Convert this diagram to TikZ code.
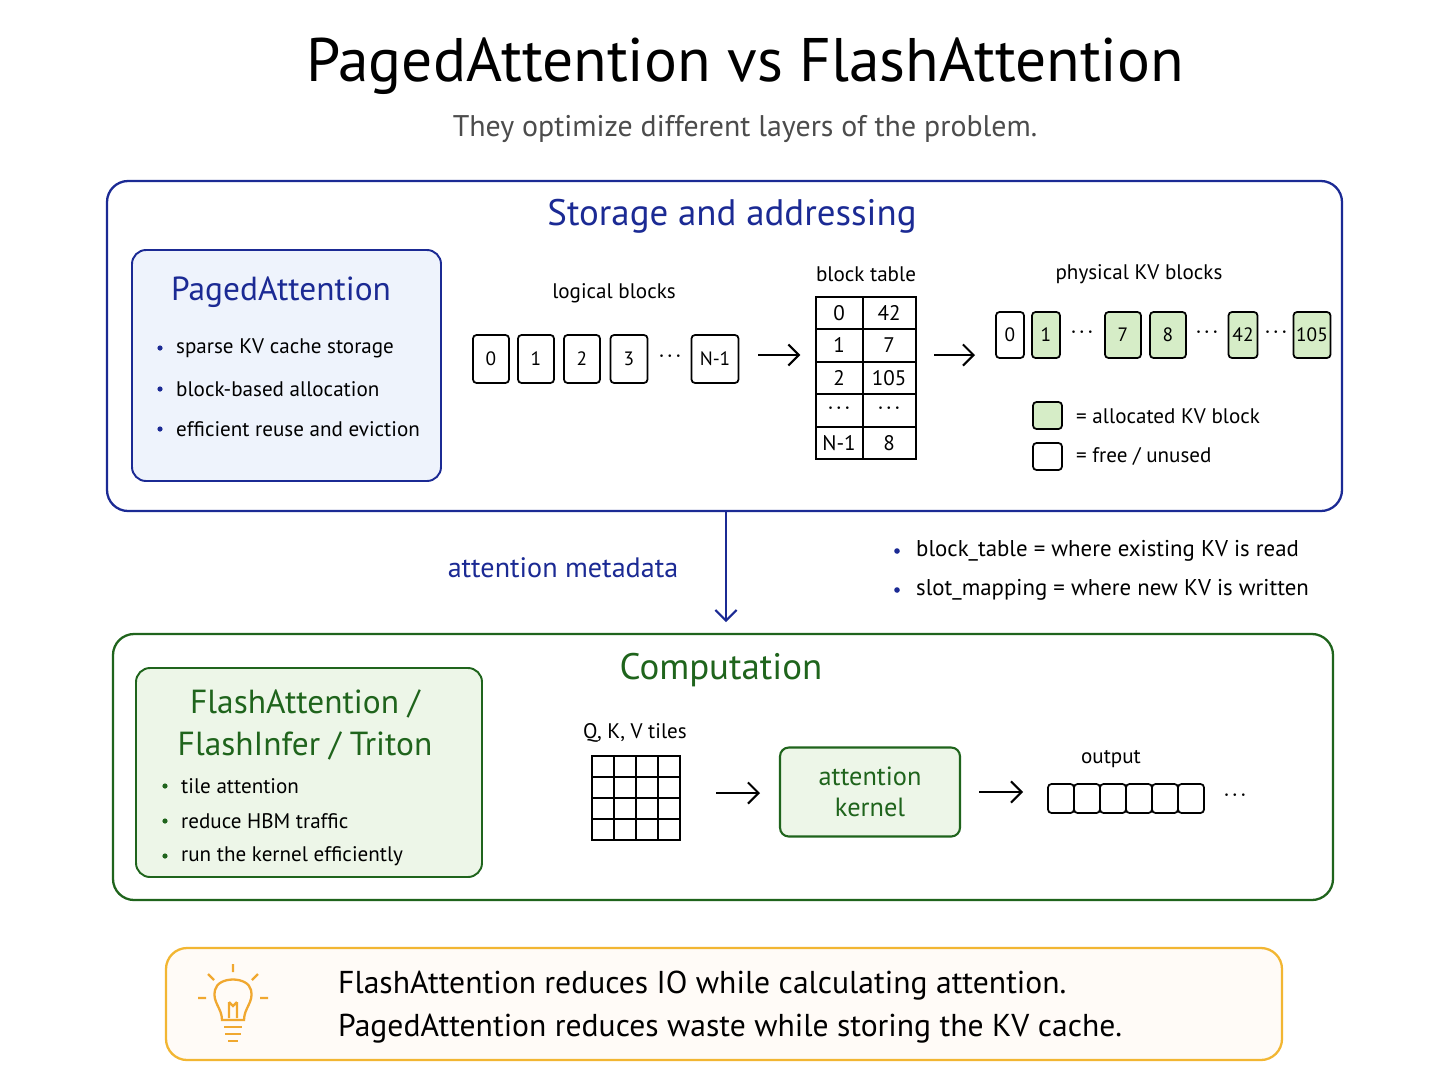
\documentclass[tikz,border=0pt]{standalone}
\usepackage{fontspec}
\setmainfont{PT Sans}
\usetikzlibrary{arrows.meta}
\definecolor{dblue}{HTML}{1B2A94}
\definecolor{lblue}{HTML}{EEF3FC}
\definecolor{dgreen}{HTML}{1F641C}
\definecolor{lgreen}{HTML}{EDF6E8}
\definecolor{kvgreen}{HTML}{D6EDC7}
\definecolor{orng}{HTML}{F2B632}
\definecolor{bulb}{HTML}{F0A830}
\newcommand{\dts}{\fontsize{15}{15}\selectfont\textbf{$\cdot\!\cdot\!\cdot$}}
\begin{document}
\begin{tikzpicture}[x=0.02cm,y=-0.02cm,
  pnl/.style={draw,rounded corners=12pt,line width=1.3pt},
  blk/.style={draw,line width=1pt,rounded corners=2pt,inner sep=0pt,font=\fontsize{11}{12}\selectfont},
  lbl/.style={font=\fontsize{12}{14}\selectfont},
  arr/.style={-{Straight Barb[length=6pt]},line width=1.2pt},
  bul/.style={font=\fontsize{12}{14}\selectfont,anchor=west}]
\useasboundingbox (0,0) rectangle (1448,1086);
\fill[white] (0,0) rectangle (1448,1086);
\node (title) at (745,66) {\fontsize{35}{40}\selectfont PagedAttention vs FlashAttention};
\node[text=black!70] (sub) at (745,129) {\fontsize{17}{20}\selectfont They optimize different layers of the problem.};
% Storage
\draw[pnl,dblue] (107,181) rectangle (1342,511);
\node[text=dblue] (st) at (732,216) {\fontsize{21}{24}\selectfont Storage and addressing};
\draw[pnl,dblue,fill=lblue,line width=1.1pt,rounded corners=8pt] (132,250) rectangle (441,481);
\node[text=dblue] (pa) at (281,292) {\fontsize{19}{22}\selectfont PagedAttention};
\foreach \y/\t in {348/sparse KV cache storage,389/block-based allocation,429/efficient reuse and eviction}{
  \fill[dblue] (160,\y) circle (2.6);
  \node[bul] at (170,\y) {\t};}
\node[lbl] (lb) at (614,293) {logical blocks};
\foreach \x/\w/\t/\n in {491/36/0/l0,536/36/1/l1,582/36/2/l2,629/37/3/l3,715/47/N-1/ln}{
  \node[blk,minimum width=\w*0.02cm,minimum height=0.96cm] (\n) at (\x,359) {\t};}
\node (ldots) at (670,357) {\dts};
\node[lbl] (bt) at (866,274) {block table};
\draw[line width=1pt] (816,297) rectangle (916,459);
\foreach \y in {329,362,394,427} \draw[line width=0.9pt] (816,\y) -- (916,\y);
\draw[line width=0.9pt] (863,297) -- (863,459);
\foreach \y/\a/\b in {313/0/42,345/1/7,378/2/105,443/N-1/8}{
  \node[lbl] at (839,\y) {\a}; \node[lbl] at (889,\y) {\b};}
\node at (839,409) {\dts}; \node at (889,409) {\dts};
\draw[arr] (ln.east) ++(19,-4) -- ++(42,0);
\draw[arr] (934,355) -- (975,355);
\node[lbl] (pk) at (1139,274) {physical KV blocks};
\foreach \x/\w/\t/\f/\n in {1010/28/0/white/p0,1046/28/1/kvgreen/p1,1123/36/7/kvgreen/p7,1168/36/8/kvgreen/p8,1243/29/42/kvgreen/p42,1312/37/105/kvgreen/p105}{
  \node[blk,fill=\f,minimum width=\w*0.02cm,minimum height=0.92cm] (\n) at (\x,335) {\t};}
\foreach \x in {1082,1207,1276} \node at (\x,333) {\dts};
\draw[blk,fill=kvgreen] (1033,402) rectangle (1062,429);
\draw[blk] (1033,443) rectangle (1062,470);
\node[bul] at (1070,416) {=\ allocated KV block};
\node[bul] at (1070,456) {=\ free / unused};
% metadata
\draw[arr,dblue] (726,511) -- (726,622);
\node[text=dblue] (am) at (563,568) {\fontsize{16}{19}\selectfont attention metadata};
\foreach \y/\t in {551/{block\_table = where existing KV is read},590/{slot\_mapping = where new KV is written}}{
  \fill[dblue] (897,\y) circle (2.8);
  \node[bul,font=\fontsize{13}{15}\selectfont] at (910,\y) {\t};}
% Computation
\draw[pnl,dgreen] (113,634) rectangle (1333,900);
\node[text=dgreen] (cp) at (721,670) {\fontsize{21}{24}\selectfont Computation};
\draw[pnl,dgreen,fill=lgreen,line width=1.1pt,rounded corners=8pt] (136,668) rectangle (482,877);
\node[text=dgreen,align=center,font=\fontsize{19}{23.5}\selectfont] (fa) at (305,725) {FlashAttention /\\ FlashInfer / Triton};
\foreach \y/\t in {786/tile attention,821/reduce HBM traffic,856/run the kernel efficiently}{
  \fill[dgreen] (165,\y) circle (2.6);
  \node[bul] at (175,\y) {\t};}
\node[lbl] (qkv) at (635,733) {Q, K, V tiles};
\draw[line width=1pt] (592,756) rectangle (680,840);
\foreach \x in {614,636,658} \draw[line width=1pt] (\x,756) -- (\x,840);
\foreach \y in {777,798,819} \draw[line width=1pt] (592,\y) -- (680,\y);
\draw[arr] (716,793) -- (760,793);
\node[draw=dgreen,fill=lgreen,line width=1.2pt,rounded corners=5pt,minimum width=3.6cm,minimum height=1.78cm,align=center,text=dgreen,font=\fontsize{15}{18}\selectfont] (ak) at (870,792) {attention\\kernel};
\draw[arr] (ak.east) ++(18,0) -- ++(44,0);
\node[lbl] (out) at (1111,759) {output};
\foreach \i in {0,...,5}
  \draw[line width=1pt,rounded corners=2pt] (1048+\i*26,784) rectangle (1074+\i*26,813);
\node at (1235,796) {\dts};
% Bottom
\draw[orng,rounded corners=12pt,line width=1.3pt,fill=orange!3] (166,948) rectangle (1282,1060);
\begin{scope}[bulb,line width=1.3pt]
\draw (222,1020) .. controls (222,1008) and (212,1002) .. (215,990) .. controls (218,976) and (248,976) .. (251,990) .. controls (254,1002) and (244,1008) .. (244,1020) -- cycle;
\draw (224,1027) -- (242,1027); \draw (225,1034) -- (241,1034); \draw (228,1041) -- (238,1041);
\draw (229,1018) -- (229,1002) (237,1018) -- (237,1002) (229,1002) -- (233,1006) -- (237,1002);
\draw (233,964) -- (233,972) (208,974) -- (214,980) (258,974) -- (252,980) (198,998) -- (206,998) (260,998) -- (268,998);
\end{scope}
\node[anchor=west,align=left,font=\fontsize{18}{24}\selectfont] (tip) at (332,1007) {FlashAttention reduces IO while calculating attention.\\PagedAttention reduces waste while storing the KV cache.};
\end{tikzpicture}
\end{document}
